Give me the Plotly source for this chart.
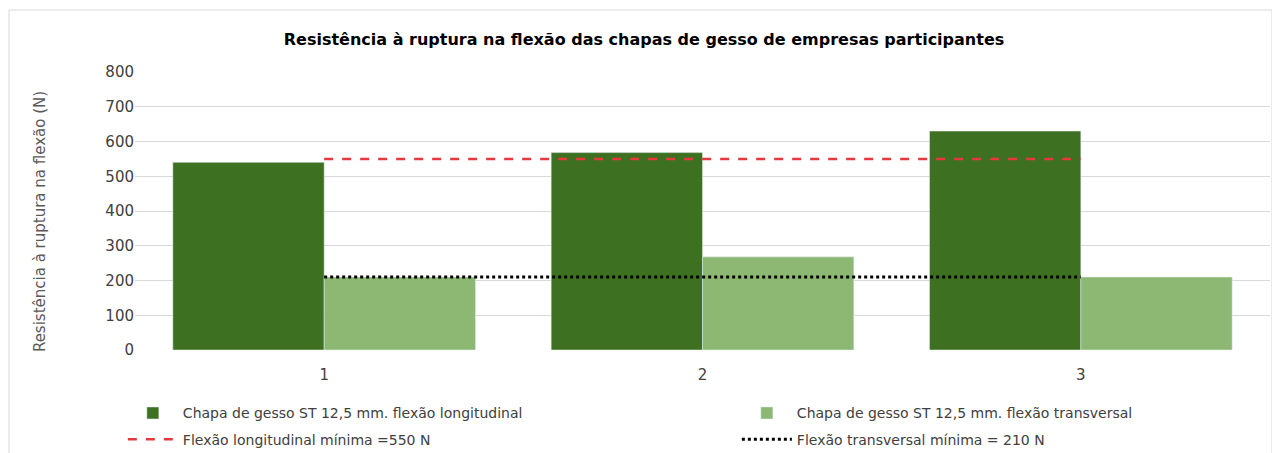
import plotly.graph_objects as go

empresas = ['1', '2', '3']
flexao_longitudinal = [540, 568, 630]
flexao_transversal = [210, 268, 210]
minimo_longitudinal = [550, 550, 550]
minimo_transversal = [210, 210, 210]

fonte = 'DejaVu Sans, Liberation Sans, Arial, sans-serif'

fig = go.Figure()
fig.add_trace(go.Bar(x=empresas, y=flexao_longitudinal, legend='legend', legendgroup='a',
                     name='Chapa de gesso ST 12,5 mm. flexão longitudinal',
                     marker=dict(color='#3e7021')))
fig.add_trace(go.Bar(x=empresas, y=flexao_transversal, legend='legend2', legendgroup='b',
                     name='Chapa de gesso ST 12,5 mm. flexão transversal',
                     marker=dict(color='#8cb873')))
fig.add_trace(go.Scatter(x=empresas, y=minimo_longitudinal, mode='lines',
                         legend='legend', legendgroup='c',
                         name='Flexão longitudinal mínima =550 N',
                         line=dict(color='#e8383d', width=2.5, dash='dash')))
fig.add_trace(go.Scatter(x=empresas, y=minimo_transversal, mode='lines',
                         legend='legend2', legendgroup='d',
                         name='Flexão transversal mínima = 210 N',
                         line=dict(color='#000000', width=3, dash='dot')))

legenda = dict(orientation='v', xref='container', xanchor='left',
               yref='container', y=0.125, yanchor='top',
               font=dict(size=14, color='#404040'), tracegroupgap=5, itemwidth=50)

# a página tem margem de 8 px, por isso 1272x445
fig.update_layout(
    width=1272, height=445,
    paper_bgcolor='white', plot_bgcolor='white',
    font=dict(family=fonte, size=14, color='#404040'),
    title=dict(text='<b>Resistência à ruptura na flexão das chapas de gesso de empresas participantes</b>',
               x=0.5, xanchor='center', yref='container', y=0.93, yanchor='middle',
               font=dict(family=fonte, size=16, color='#000000')),
    margin=dict(l=127, r=10, t=64, b=103, autoexpand=False),
    barmode='group', bargap=0.2, bargroupgap=0,
    legend=dict(legenda, x=0.0903),
    legend2=dict(legenda, x=0.573),
    showlegend=True,
)
fig.update_xaxes(showgrid=False, showline=False, ticks='', ticklabelstandoff=14,
                 tickfont=dict(size=15, color='#404040'))
fig.update_yaxes(range=[0, 800], dtick=100, showgrid=True, gridcolor='#d9d9d9', gridwidth=1,
                 zeroline=False, ticks='', tickfont=dict(size=15, color='#404040'))
# título do eixo y como anotação (o title do eixo saía fora do lugar com duas legendas)
fig.add_annotation(text='Resistência à ruptura na flexão (N)', textangle=-90,
                   xref='paper', yref='paper', x=-0.0837, y=0.46,
                   xanchor='center', yanchor='middle', showarrow=False,
                   font=dict(size=15, color='#595959'))
fig.add_shape(type='rect', xref='paper', yref='paper',
              x0=-126 / 1135, x1=1 + 2 / 1135, y0=-0.5, y1=1 + 62 / 278,
              line=dict(color='#d9d9d9', width=1), layer='below')

fig.write_html("out.html")
